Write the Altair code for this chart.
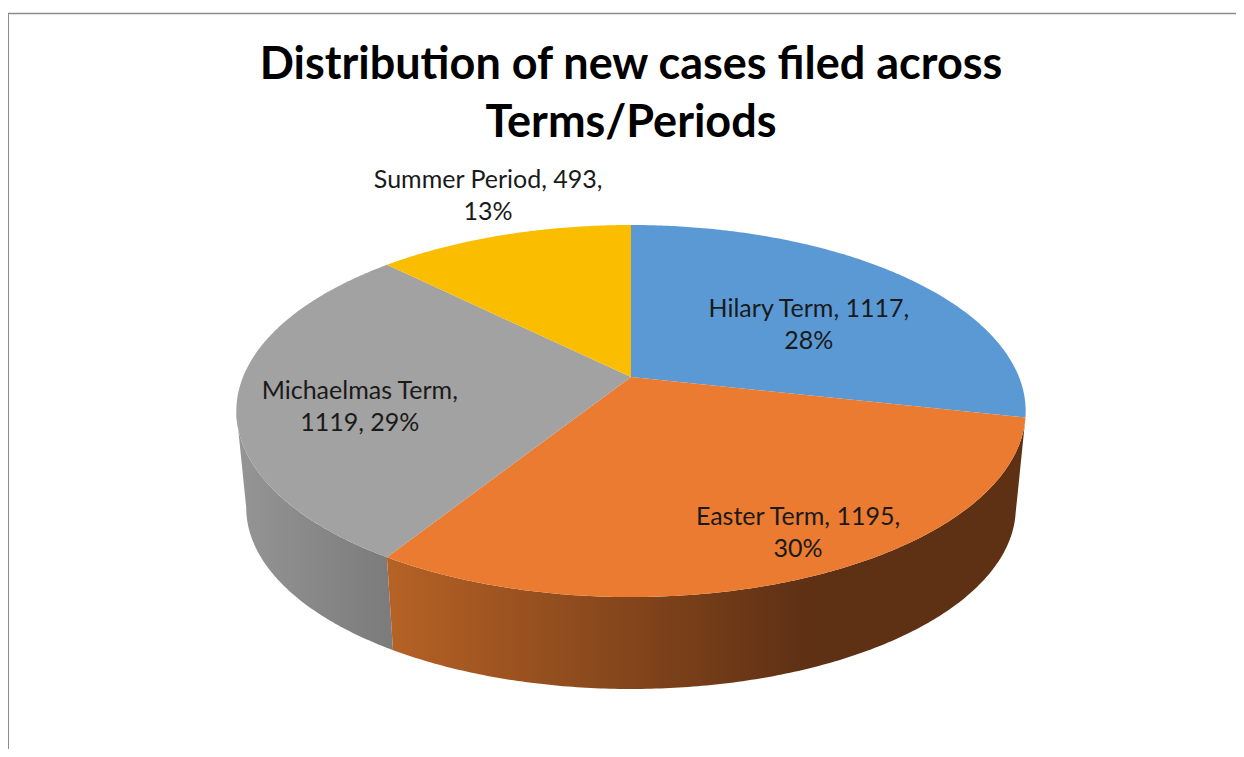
import numpy as np
import pandas as pd
import altair as alt

categories = ["Hilary Term", "Easter Term", "Michaelmas Term", "Summer Period"]
values = [1117, 1195, 1119, 493]
percent_labels = ["28%", "30%", "29%", "13%"]
title_lines = ["Distribution of new cases filed across", "Terms/Periods"]
top_colors = ["#5A99D4", "#EA7B30", "#A2A2A2", "#FBBD00"]

W, H = 1228, 741
K = 0.183          # perspective strength of the tilted disc
CX, CY, A, B = 631, 377, 388, 179.8
BOTTOM = dict(cy=474.4, a=388 * 0.975, b=179.8 * 0.975)
TOP = dict(cy=CY, a=A, b=B)

shares = np.array(values) / sum(values)
edges = np.concatenate([[0], np.cumsum(shares)]) * 2 * np.pi


def project(theta, r=1.0, disc=TOP):
    X, Z = r * np.sin(theta), r * np.cos(theta)
    w = 1 + K * Z
    return CX + disc["a"] * X / w, disc["cy"] - disc["b"] * Z / w


def arc(t0, t1, disc=TOP):
    n = max(int(abs(t1 - t0) / 0.01), 2)
    return project(np.linspace(t0, t1, n), disc=disc)


xs = alt.Scale(domain=[8, 8 + W], nice=False, zero=False)
ys = alt.Scale(domain=[8 + H, 8], nice=False, zero=False)


def polygon(px, py, fill):
    df = pd.DataFrame({"px": px, "py": py, "i": np.arange(len(px))})
    return (
        alt.Chart(df)
        .mark_line(fill=fill, stroke=None, strokeWidth=0, interpolate="linear")
        .encode(
            x=alt.X("px:Q", scale=xs, axis=None),
            y=alt.Y("py:Q", scale=ys, axis=None),
            order="i:Q",
        )
    )


def wall(t0, t1, fill):
    x0, y0 = arc(t0, t1)
    x1, y1 = arc(t1, t0, BOTTOM)
    return polygon(np.r_[x0, x1], np.r_[y0, y1], fill)


layers = []

# side walls
silhouette = np.pi * 2 - np.arccos(-K)
layers.append(wall(edges[2], silhouette, alt.Gradient(
    gradient="linear", x1=1, x2=0, y1=0, y2=0,
    stops=[alt.GradientStop(color="#7C7C7C", offset=0.05),
           alt.GradientStop(color="#959595", offset=1)])))
layers.append(wall(edges[1], edges[2], alt.Gradient(
    gradient="linear", x1=0, x2=1, y1=0, y2=0,
    stops=[alt.GradientStop(color="#B66225", offset=0),
           alt.GradientStop(color="#5E3014", offset=0.66),
           alt.GradientStop(color="#5E3014", offset=1)])))

# top face
for i, color in enumerate(top_colors):
    ax, ay = arc(edges[i], edges[i + 1])
    layers.append(polygon(np.r_[CX, ax], np.r_[CY, ay], color))

# slice labels: mid-angle of each slice, pushed to where the labels sit
label_radius = [0.6, 0.6, 0.6, 1.2]
label_nudge = [(8, -5), (67, 29), (-37, 2), (6, -31)]
mid = (edges[:-1] + edges[1:]) / 2
lx, ly = [], []
for m, r, (dx, dy) in zip(mid, label_radius, label_nudge):
    x, y = project(m, r)
    lx.append(x + dx)
    ly.append(y + dy)
label_text = [
    f"{categories[0]}, {values[0]},\n{percent_labels[0]}",
    f"{categories[1]}, {values[1]},\n{percent_labels[1]}",
    f"{categories[2]},\n{values[2]}, {percent_labels[2]}",
    f"{categories[3]}, {values[3]},\n{percent_labels[3]}",
]
labels = pd.DataFrame({"px": lx, "py": ly, "t": label_text})
layers.append(
    alt.Chart(labels)
    .mark_text(font="Lato", fontSize=25, color="#1a1a1a", lineBreak="\n",
               lineHeight=32, align="center", baseline="middle")
    .encode(x=alt.X("px:Q", scale=xs, axis=None),
            y=alt.Y("py:Q", scale=ys, axis=None),
            text="t:N")
)

# frame of the chart area
top_rule = pd.DataFrame({"x0": [8], "x1": [8 + W], "y0": [13.5]})
left_rule = pd.DataFrame({"x0": [8], "y0": [13], "y1": [8 + H]})
layers.append(
    alt.Chart(top_rule).mark_rule(color="#8C8C8C", strokeWidth=1.4).encode(
        x=alt.X("x0:Q", scale=xs, axis=None), x2="x1:Q",
        y=alt.Y("y0:Q", scale=ys, axis=None))
)
layers.append(
    alt.Chart(left_rule).mark_rule(color="#8C8C8C", strokeWidth=2).encode(
        x=alt.X("x0:Q", scale=xs, axis=None),
        y=alt.Y("y0:Q", scale=ys, axis=None), y2="y1:Q")
)

chart = (
    alt.layer(*layers)
    .properties(
        width=W, height=H, padding=0,
        autosize=alt.AutoSizeParams(type="none"),
        background="white",
        title=alt.TitleParams(
            text=title_lines, font="Lato", fontSize=45, fontWeight="bold",
            color="#000000", lineHeight=58, anchor="middle", frame="group",
            baseline="alphabetic", offset=-174, dx=9,
        ),
    )
    .configure_view(stroke=None)
)

chart.save("out.html", embed_options={"renderer": "svg", "actions": False})
